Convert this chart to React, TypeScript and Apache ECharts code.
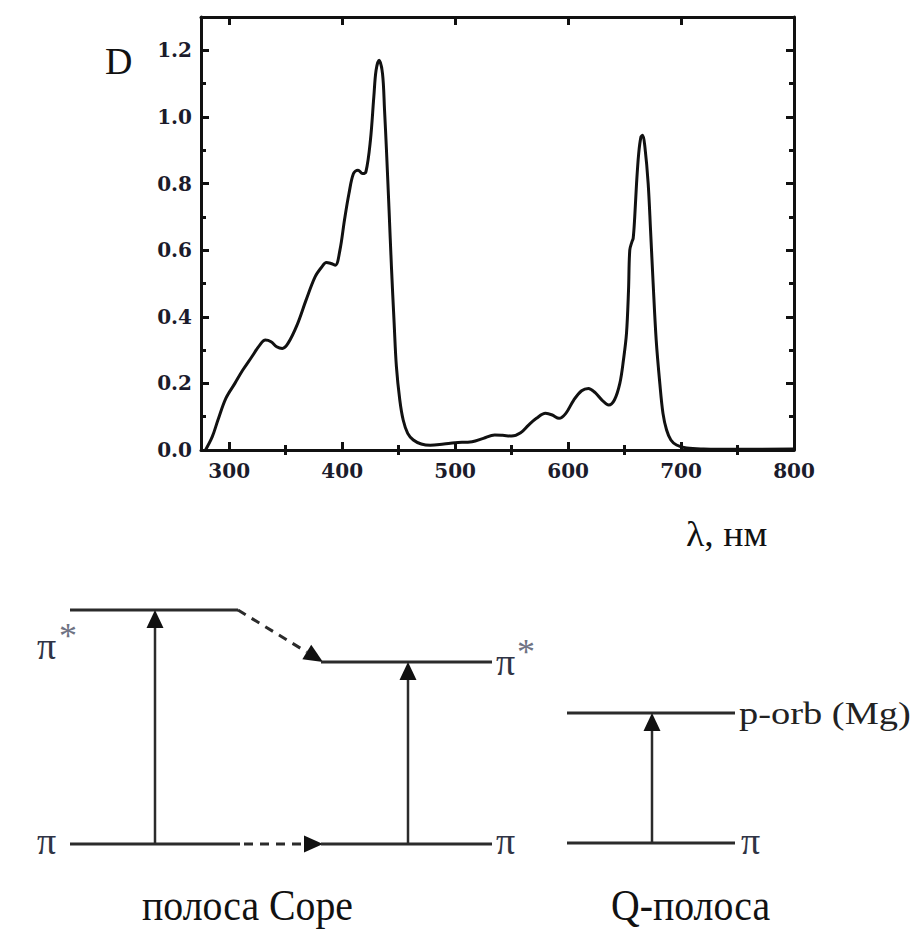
import React, { useEffect, useRef } from "react";
import * as echarts from "echarts";

// Absorption spectrum (wavelength nm, optical density D)
const wavelengths = [
  279, 285, 290, 297, 305, 312, 320, 327, 332, 337, 342, 347, 352, 360, 368, 376, 382, 386, 390, 394,
  398, 402, 406, 410, 414, 418, 421, 425, 428, 430, 432.7, 435.7, 437.5, 439.2, 441.5, 443.6, 446, 448, 451, 454,
  458, 463, 470, 478, 490, 500, 515, 525, 535, 542, 550, 558, 565, 572, 580, 586, 592, 598, 605, 612,
  618, 624, 630, 636, 641, 645.8, 649, 651.7, 653.5, 654.6, 656.5, 657.6, 659, 660.6, 662.5, 664.5, 666, 668, 670.9, 673,
  675.3, 678, 681.2, 684, 687.2, 691, 696, 705, 720, 750, 800,
];
const density = [
  0, 0.04, 0.09, 0.155, 0.2, 0.24, 0.28, 0.315, 0.33, 0.325, 0.31, 0.305, 0.32, 0.375, 0.45, 0.52, 0.55, 0.563, 0.56, 0.555,
  0.6, 0.69, 0.77, 0.83, 0.84, 0.83, 0.835, 0.93, 1.06, 1.14, 1.17, 1.13, 1.02, 0.9, 0.72, 0.55, 0.38, 0.25, 0.15, 0.09,
  0.05, 0.03, 0.018, 0.014, 0.018, 0.022, 0.025, 0.035, 0.045, 0.044, 0.042, 0.052, 0.075, 0.095, 0.11, 0.105, 0.095, 0.11, 0.15, 0.178,
  0.185, 0.172, 0.15, 0.135, 0.15, 0.2, 0.27, 0.35, 0.48, 0.6, 0.625, 0.635, 0.7, 0.8, 0.89, 0.94, 0.945, 0.91, 0.8, 0.66,
  0.5, 0.33, 0.2, 0.11, 0.06, 0.03, 0.015, 0.006, 0.003, 0.002, 0.003,
];

const xMajorTicks = [300, 400, 500, 600, 700, 800];
const xMinorTicks = [350, 450, 550, 650, 750];
const yMajorTicks = [0, 0.2, 0.4, 0.6, 0.8, 1.0, 1.2];
const yMinorTicks = [0.1, 0.3, 0.5, 0.7, 0.9, 1.1];

const yAxisTitle = "D";
const xAxisTitle = "λ, нм";
const soretLabel = "полоса Соре";
const qLabel = "Q-полоса";
const piStar = "π";
const star = "*";
const pOrb = "p-orb (Mg)";

const INK = "#111";
const LINE = "#2b2b2b";

export default function App() {
  const ref = useRef<HTMLDivElement>(null);

  useEffect(() => {
    document.body.style.margin = "0";
    if (!ref.current) return;
    const chart = echarts.init(ref.current, undefined, { renderer: "svg" });

    const labelFont = {
      fontFamily: "DejaVu Serif",
      fontWeight: "bold" as const,
      fontSize: 20,
      color: "#1b1b2b",
    };

    const majorX = (position: "bottom" | "top", labels: boolean) => ({
      type: "value",
      min: 275,
      max: 800,
      position,
      axisLine: { show: true, onZero: false, lineStyle: { color: INK, width: 3 } },
      axisTick: {
        show: true,
        inside: true,
        length: 8,
        lineStyle: { color: INK, width: 3 },
        customValues: xMajorTicks,
      },
      axisLabel: labels
        ? { show: true, margin: 11, customValues: xMajorTicks, ...labelFont }
        : { show: false },
      splitLine: { show: false },
    });
    const minorX = (position: "bottom" | "top") => ({
      type: "value",
      min: 275,
      max: 800,
      position,
      axisLine: { show: false },
      axisTick: {
        show: true,
        inside: true,
        length: 5,
        lineStyle: { color: INK, width: 3 },
        customValues: xMinorTicks,
      },
      axisLabel: { show: false },
      splitLine: { show: false },
    });
    const majorY = (position: "left" | "right", labels: boolean) => ({
      type: "value",
      min: 0,
      max: 1.3,
      position,
      axisLine: { show: true, onZero: false, lineStyle: { color: INK, width: 3 } },
      axisTick: {
        show: true,
        inside: true,
        length: 8,
        lineStyle: { color: INK, width: 3 },
        customValues: yMajorTicks,
      },
      axisLabel: labels
        ? {
            show: true,
            margin: 9,
            customValues: yMajorTicks,
            formatter: (v: number) => v.toFixed(1),
            ...labelFont,
          }
        : { show: false },
      splitLine: { show: false },
    });
    const minorY = (position: "left" | "right") => ({
      type: "value",
      min: 0,
      max: 1.3,
      position,
      axisLine: { show: false },
      axisTick: {
        show: true,
        inside: true,
        length: 5,
        lineStyle: { color: INK, width: 3 },
        customValues: yMinorTicks,
      },
      axisLabel: { show: false },
      splitLine: { show: false },
    });

    const txt = (
      text: string,
      x: number,
      y: number,
      size: number,
      fill: string,
      scaleX = 1,
      scaleY = 1
    ) => ({
      type: "text",
      x,
      y,
      scaleX,
      scaleY,
      style: {
        text,
        fill,
        fontFamily: "Liberation Serif",
        fontSize: size,
        align: "left",
        verticalAlign: "middle",
      },
    });
    const seg = (x1: number, y1: number, x2: number, y2: number, dash?: number[], w = 3) => ({
      type: "line",
      shape: { x1, y1, x2, y2 },
      style: { stroke: LINE, lineWidth: w, lineDash: dash || null },
    });
    const tri = (pts: number[][]) => ({
      type: "polygon",
      shape: { points: pts },
      style: { fill: "#111" },
    });
    const upArrow = (x: number, yBottom: number, yTip: number) => [
      seg(x, yBottom, x, yTip + 12, undefined, 2.5),
      tri([
        [x, yTip],
        [x - 8.5, yTip + 18],
        [x + 8.5, yTip + 18],
      ]),
    ];

    // diagonal dashed arrow geometry
    const dx0 = 238, dy0 = 610, tx = 323, ty = 662;
    const len = Math.hypot(tx - dx0, ty - dy0);
    const ux = (tx - dx0) / len, uy = (ty - dy0) / len;
    const bx = tx - ux * 19, by = ty - uy * 19;
    const px = -uy * 8.5, py = ux * 8.5;

    const graphics: any[] = [
      txt(yAxisTitle, 105, 61, 38, "#111"),
      txt(xAxisTitle, 686, 534, 35, "#111", 1.08),
      // Soret: levels
      seg(70, 610, 238, 610),
      seg(dx0, dy0, bx, by, [9, 7]),
      tri([
        [tx, ty],
        [bx + px, by + py],
        [bx - px, by - py],
      ]),
      seg(321, 662, 492, 662),
      seg(70, 844, 240, 844),
      seg(244, 844, 304, 844, [9, 7]),
      tri([
        [323, 844],
        [304, 835.5],
        [304, 852.5],
      ]),
      seg(321, 844, 492, 844),
      ...upArrow(155, 844, 610),
      ...upArrow(408, 844, 662),
      // Q band
      seg(567, 713, 735, 713),
      seg(567, 843, 735, 843),
      ...upArrow(652, 843, 713),
      // labels
      txt(piStar, 37, 646, 38, "#2f3445"),
      txt(star, 59, 636, 36, "#6f7383"),
      txt(piStar, 37, 841, 38, "#2f3445"),
      txt(piStar, 496, 662, 38, "#2f3445"),
      txt(star, 517, 652, 36, "#6f7383"),
      txt(piStar, 496, 841, 38, "#2f3445"),
      txt(pOrb, 739, 714, 31, "#222", 1.24),
      txt(piStar, 741, 841, 38, "#2f3445"),
      txt(soretLabel, 142, 905, 39, "#111", 1.02, 1.15),
      txt(qLabel, 611, 905, 39, "#111", 1.02, 1.15),
    ];

    chart.setOption({
      animation: false,
      backgroundColor: "#ffffff",
      grid: { left: 201, top: 17, width: 593, height: 433, containLabel: false },
      xAxis: [majorX("bottom", true), minorX("bottom"), majorX("top", false), minorX("top")],
      yAxis: [majorY("left", true), minorY("left"), majorY("right", false), minorY("right")],
      series: [
        {
          type: "line",
          xAxisIndex: 0,
          yAxisIndex: 0,
          data: wavelengths.map((w, i) => [w, density[i]]),
          smooth: 0.35,
          showSymbol: false,
          symbol: "none",
          lineStyle: { color: "#111", width: 3 },
          clip: true,
        },
      ],
      graphic: graphics,
    });

    return () => chart.dispose();
  }, []);

  return <div ref={ref} style={{ width: 921, height: 935 }} />;
}
